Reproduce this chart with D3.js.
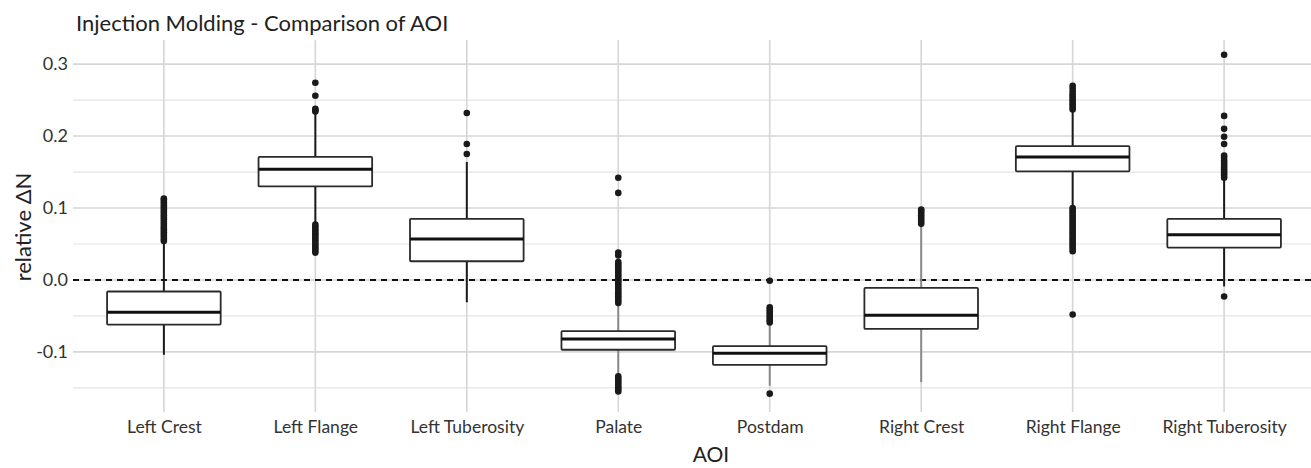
<!DOCTYPE html>
<html>
<head>
<meta charset="utf-8">
<script src="https://cdn.jsdelivr.net/npm/d3@7"></script>
<style>
  html, body { margin: 0; padding: 0; background: #fff; }
  svg { display: block; font-family: Lato, "Noto Sans", sans-serif; }
</style>
</head>
<body>
<svg id="chart" width="1311" height="468"></svg>
<script>
// ---- data ----
const categories = ["Left Crest", "Left Flange", "Left Tuberosity", "Palate", "Postdam", "Right Crest", "Right Flange", "Right Tuberosity"];
const q1Values      = [-0.062, 0.130, 0.026, -0.097, -0.118, -0.068, 0.151, 0.045];
const medianValues  = [-0.045, 0.154, 0.057, -0.082, -0.102, -0.049, 0.171, 0.063];
const q3Values      = [-0.016, 0.171, 0.085, -0.071, -0.092, -0.011, 0.186, 0.085];
const whiskerLow    = [-0.104, 0.080, -0.031, -0.133, -0.147, -0.142, 0.104, -0.009];
const whiskerHigh   = [0.053, 0.232, 0.164, -0.036, -0.060, 0.077, 0.235, 0.140];
const outlierValues = [
  [0.054, 0.057, 0.060, 0.063, 0.066, 0.069, 0.072, 0.075, 0.078, 0.081, 0.084, 0.087, 0.090, 0.093, 0.096, 0.099, 0.102, 0.105, 0.108, 0.111, 0.113],
  [0.038, 0.041, 0.044, 0.047, 0.050, 0.053, 0.056, 0.059, 0.062, 0.065, 0.068, 0.071, 0.074, 0.077, 0.234, 0.236, 0.238, 0.256, 0.274],
  [0.175, 0.189, 0.232],
  [-0.155, -0.152, -0.149, -0.146, -0.143, -0.140, -0.137, -0.134, -0.032, -0.029, -0.026, -0.023, -0.020, -0.017, -0.014, -0.011, -0.008, -0.005, -0.002, 0.001, 0.004, 0.007, 0.010, 0.013, 0.016, 0.019, 0.022, 0.025, 0.034, 0.038, 0.121, 0.142],
  [-0.158, -0.059, -0.056, -0.053, -0.050, -0.047, -0.044, -0.041, -0.038, -0.001],
  [0.078, 0.081, 0.084, 0.087, 0.090, 0.093, 0.096, 0.098],
  [-0.048, 0.040, 0.043, 0.046, 0.049, 0.052, 0.055, 0.058, 0.061, 0.064, 0.067, 0.070, 0.073, 0.076, 0.079, 0.082, 0.085, 0.088, 0.091, 0.094, 0.097, 0.100, 0.237, 0.240, 0.243, 0.246, 0.249, 0.252, 0.255, 0.258, 0.262, 0.266, 0.270],
  [-0.023, 0.142, 0.145, 0.148, 0.151, 0.154, 0.157, 0.160, 0.163, 0.166, 0.170, 0.173, 0.189, 0.199, 0.210, 0.228, 0.313]
];
const yTicks = [-0.1, 0.0, 0.1, 0.2, 0.3];
const yMinorTicks = [-0.15, -0.05, 0.05, 0.15, 0.25];
const yTickLabels = ["-0.1", "0.0", "0.1", "0.2", "0.3"];
const titleText = "Injection Molding - Comparison of AOI";
const xTitle = "AOI";
const yTitle = "relative \u0394N";

// ---- layout ----
const svg = d3.select("#chart");
const panel = { left: 73, right: 1315, top: 40, bottom: 412 };
const step = (panel.right - panel.left) / (categories.length - 1 + 1.2);

const x = d3.scalePoint()
  .domain(categories)
  .range([panel.left + 0.6 * step, panel.right - 0.6 * step]);
const boxW = 0.75 * step;

const y = d3.scaleLinear()
  .domain([-0.1835, 0.3335])
  .range([panel.bottom, panel.top]);

const grayWhisker = new Set(["Palate", "Postdam", "Right Crest"]);

// minor grid
svg.append("g").selectAll("line").data(yMinorTicks).join("line")
  .attr("x1", panel.left).attr("x2", panel.right)
  .attr("y1", d => y(d)).attr("y2", d => y(d))
  .attr("stroke", "#e4e4e4").attr("stroke-width", 1.2);

// major grid
svg.append("g").selectAll("line").data(yTicks).join("line")
  .attr("x1", panel.left).attr("x2", panel.right)
  .attr("y1", d => y(d)).attr("y2", d => y(d))
  .attr("stroke", "#d6d6d6").attr("stroke-width", 1.6);

svg.append("g").selectAll("line").data(categories).join("line")
  .attr("x1", d => x(d)).attr("x2", d => x(d))
  .attr("y1", panel.top).attr("y2", panel.bottom)
  .attr("stroke", "#d6d6d6").attr("stroke-width", 1.6);

// zero dashed line
svg.append("line")
  .attr("x1", panel.left).attr("x2", panel.right)
  .attr("y1", y(0)).attr("y2", y(0))
  .attr("stroke", "#111").attr("stroke-width", 2)
  .attr("stroke-dasharray", "6,5");

// boxes
const rows = categories.map((c, i) => ({
  c, q1: q1Values[i], med: medianValues[i], q3: q3Values[i],
  lo: whiskerLow[i], hi: whiskerHigh[i], out: outlierValues[i]
}));

const g = svg.append("g").selectAll("g").data(rows).join("g");

g.append("line")
  .attr("x1", d => x(d.c)).attr("x2", d => x(d.c))
  .attr("y1", d => y(d.q3)).attr("y2", d => y(d.hi))
  .attr("stroke", d => grayWhisker.has(d.c) ? "#8a8a8a" : "#1a1a1a")
  .attr("stroke-width", 2);
g.append("line")
  .attr("x1", d => x(d.c)).attr("x2", d => x(d.c))
  .attr("y1", d => y(d.q1)).attr("y2", d => y(d.lo))
  .attr("stroke", d => grayWhisker.has(d.c) ? "#8a8a8a" : "#1a1a1a")
  .attr("stroke-width", 2);

g.append("rect")
  .attr("x", d => x(d.c) - boxW / 2)
  .attr("width", boxW)
  .attr("y", d => y(d.q3))
  .attr("height", d => y(d.q1) - y(d.q3))
  .attr("fill", "#fff")
  .attr("stroke", "#2a2a2a").attr("stroke-width", 1.8)
  .attr("rx", 1);

g.append("line")
  .attr("x1", d => x(d.c) - boxW / 2).attr("x2", d => x(d.c) + boxW / 2)
  .attr("y1", d => y(d.med)).attr("y2", d => y(d.med))
  .attr("stroke", "#111").attr("stroke-width", 3);

g.selectAll("circle").data(d => d.out.map(v => ({ c: d.c, v }))).join("circle")
  .attr("cx", d => x(d.c)).attr("cy", d => y(d.v))
  .attr("r", 3.3).attr("fill", "#1a1a1a");

// axes text
const yAxis = d3.axisLeft(y).tickValues(yTicks).tickFormat((d, i) => yTickLabels[i]).tickSize(0).tickPadding(5);
const ya = svg.append("g").attr("transform", `translate(${panel.left},0)`).call(yAxis);
ya.select(".domain").remove();
ya.selectAll("text").attr("font-size", 18).attr("fill", "#333").attr("font-family", "Lato");

const xAxis = d3.axisBottom(x).tickSize(0).tickPadding(9);
const xa = svg.append("g").attr("transform", `translate(0,${panel.bottom})`).call(xAxis);
xa.select(".domain").remove();
xa.selectAll("text").attr("font-size", 17.5).attr("fill", "#333").attr("font-family", "Lato");

svg.append("text").attr("x", 711).attr("y", 462)
  .attr("text-anchor", "middle").attr("font-size", 21).attr("fill", "#222")
  .text(xTitle);

svg.append("text").attr("transform", "translate(31,227) rotate(-90)")
  .attr("text-anchor", "middle").attr("font-size", 22).attr("fill", "#222")
  .text(yTitle);

svg.append("text").attr("x", 76).attr("y", 31)
  .attr("font-size", 22).attr("fill", "#222")
  .text(titleText);
</script>
</body>
</html>
